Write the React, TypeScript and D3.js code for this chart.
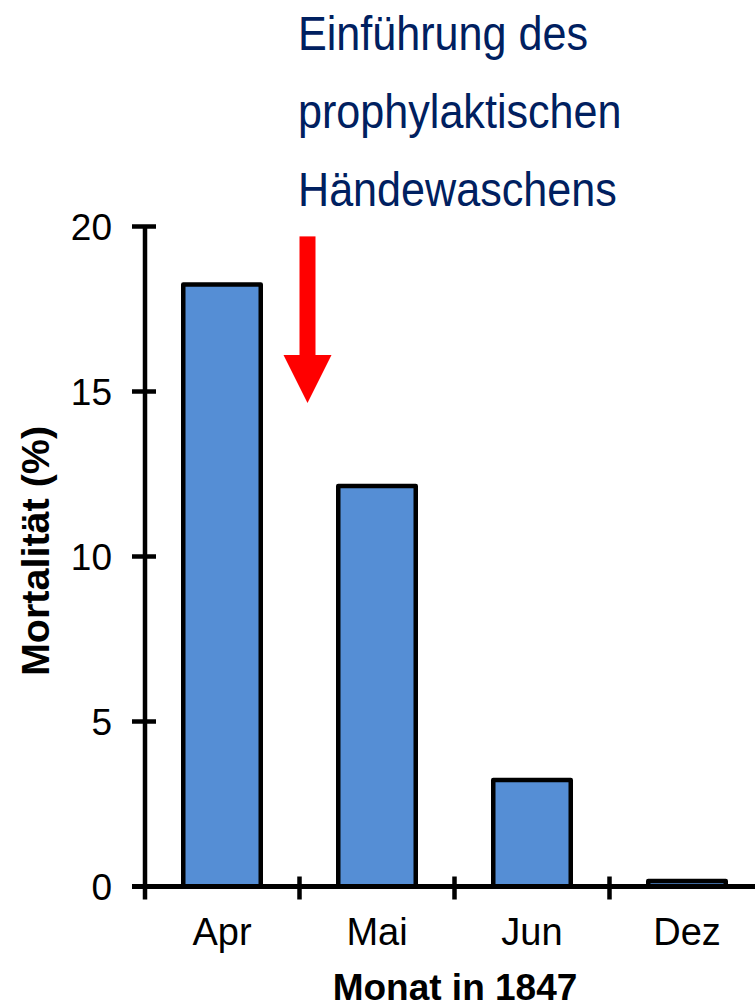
import React from 'react';
import * as d3 from 'd3';

const months = ['Apr', 'Mai', 'Jun', 'Dez'];
const mortality = [18.24, 12.14, 3.23, 0.17];
const yTicks = [0, 5, 10, 15, 20];
const noteLines = ['Einführung des', 'prophylaktischen', 'Händewaschens'];
// arrow runs from 19.7 % down to 14.65 %, just right of the Apr/Mai boundary
const arrowFrom = 19.7;
const arrowTo = 14.65;

const W = 755;
const H = 1007;

const App = () => {
  const x = d3.scaleBand<string>()
    .domain(months)
    .range([144.5, 764.5])
    .paddingInner(0.5)
    .paddingOuter(0.25);

  const y = d3.scaleLinear()
    .domain([0, 20])
    .range([886.5, 226.5]);

  const step = x.step();
  const bw = x.bandwidth();
  const sepTicks = months.map(m => (x(m) as number) - step * 0.25);
  const axisX = 145;

  const arrowX = sepTicks[1] + 8;
  const headTop = y(arrowTo) - 48;

  return (
    <svg width={W} height={H} style={{ position: 'absolute', left: 0, top: 0 }}
      fontFamily="'Liberation Sans', Arial, sans-serif">
      {/* bars */}
      {months.map((m, i) => (
        <rect key={m}
          x={x(m)}
          y={y(mortality[i])}
          width={bw}
          height={y(0) - y(mortality[i])}
          fill="#558ed5"
          stroke="#000"
          strokeWidth={4.5}
          strokeLinejoin="round" />
      ))}

      {/* y axis */}
      <line x1={axisX} x2={axisX} y1={y(20)} y2={y(0) + 13} stroke="#000" strokeWidth={4.5} />
      {yTicks.map(t => (
        <g key={t}>
          <line x1={132} x2={156} y1={y(t)} y2={y(t)} stroke="#000" strokeWidth={4.5} />
          <text x={112} y={y(t) + 13} textAnchor="end" fontSize={37}>{t}</text>
        </g>
      ))}

      {/* x axis */}
      <line x1={132} x2={W} y1={y(0)} y2={y(0)} stroke="#000" strokeWidth={5} />
      {sepTicks.slice(1).map((t, i) => (
        <line key={i} x1={t} x2={t} y1={y(0) - 10} y2={y(0) + 13} stroke="#000" strokeWidth={4.5} />
      ))}
      {months.map(m => (
        <text key={m} x={(x(m) as number) + bw / 2} y={945} textAnchor="middle" fontSize={38}>{m}</text>
      ))}

      {/* axis titles */}
      <text x={455} y={1000} textAnchor="middle" fontSize={37} fontWeight="bold">Monat in 1847</text>
      <text transform={`translate(49,551) rotate(-90)`} textAnchor="middle" fontSize={39.5} fontWeight="bold">Mortalität (%)</text>

      {/* annotation */}
      <g transform="translate(298,0) scale(0.88,1)">
        {noteLines.map((l, i) => (
          <text key={i} x={0} y={50 + i * 78} fontSize={49} fill="#002060">{l}</text>
        ))}
      </g>
      <rect x={arrowX - 8} y={y(arrowFrom)} width={16} height={headTop - y(arrowFrom) + 1} fill="#ff0000" />
      <path d={`M${arrowX - 24},${headTop} L${arrowX + 24},${headTop} L${arrowX},${y(arrowTo)} Z`} fill="#ff0000" />
    </svg>
  );
};

export default App;
